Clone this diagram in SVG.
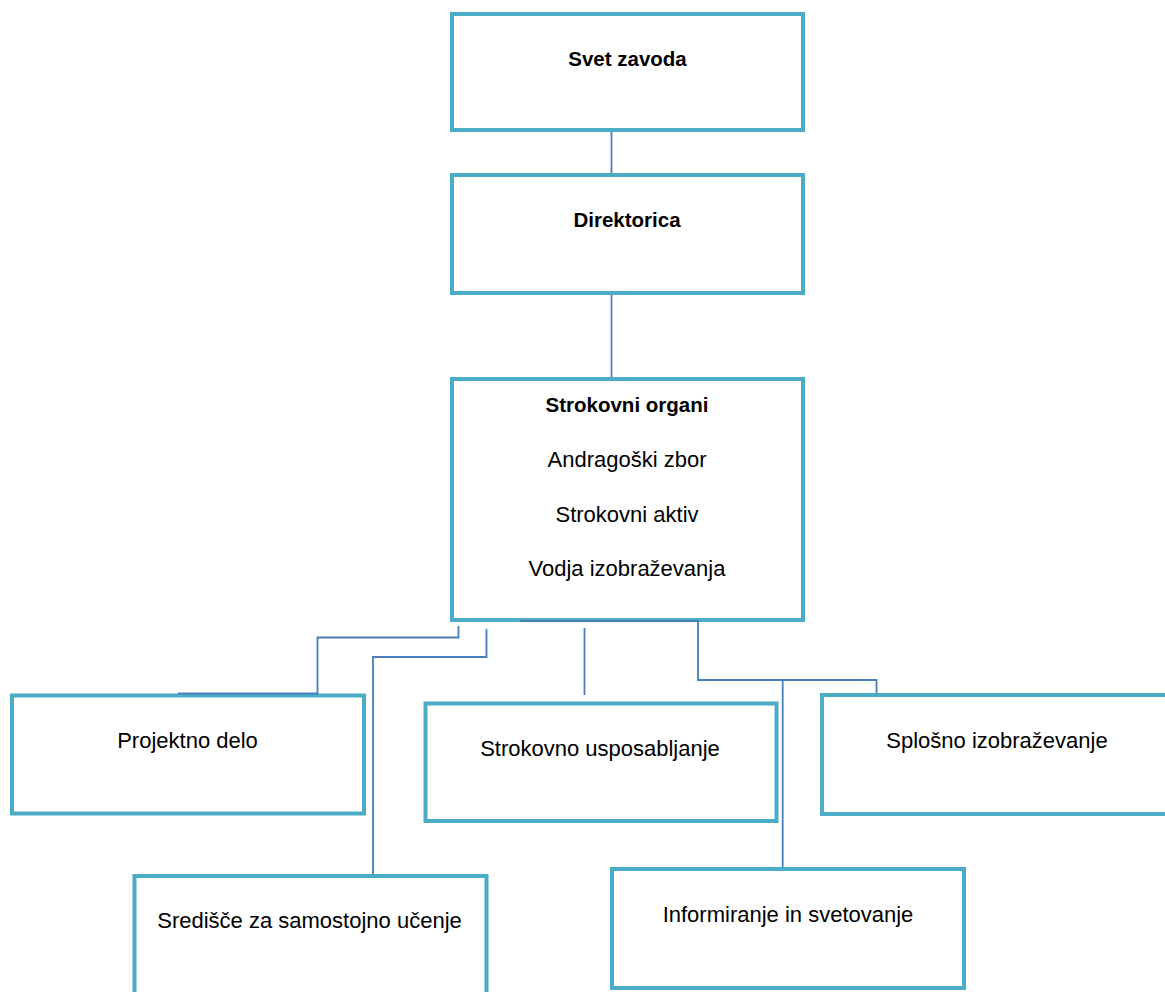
<svg xmlns="http://www.w3.org/2000/svg" width="1165" height="992" viewBox="0 0 1165 992">
<style>
.box{fill:#ffffff;stroke:#4BACC6;stroke-width:4}
.conn{fill:none;stroke:#4A7EBB;stroke-width:1.8}
text{font-family:"Liberation Sans",Arial,sans-serif;fill:#000000;text-anchor:middle}
.t{font-size:22px}
.b{font-size:20.5px;font-weight:bold}
</style>
<rect width="1165" height="992" fill="#ffffff"/>
<g id="svet-zavoda">
<rect class="box" x="452" y="14" width="351" height="116"/>
<text class="b" x="627.5" y="66">Svet zavoda</text>
</g>
<g id="direktorica">
<rect class="box" x="452" y="175" width="351" height="118"/>
<text class="b" x="627" y="227">Direktorica</text>
</g>
<g id="strokovni-organi">
<rect class="box" x="452" y="379" width="351" height="241"/>
<text class="b" x="627" y="412">Strokovni organi</text>
<text class="t" x="627" y="467">Andragoški zbor</text>
<text class="t" x="627" y="522">Strokovni aktiv</text>
<text class="t" x="627" y="576">Vodja izobraževanja</text>
</g>
<g id="projektno-delo">
<rect class="box" x="12" y="695.5" width="352" height="118"/>
<text class="t" x="187.5" y="748">Projektno delo</text>
</g>
<g id="strokovno-usposabljanje">
<rect class="box" x="425.5" y="703.5" width="351" height="117.5"/>
<text class="t" x="600" y="756">Strokovno usposabljanje</text>
</g>
<g id="splosno-izobrazevanje">
<rect class="box" x="822" y="695" width="351" height="119"/>
<text class="t" x="997" y="748">Splošno izobraževanje</text>
</g>
<g id="sredisce">
<rect class="box" x="134.5" y="876" width="352" height="130"/>
<text class="t" x="309.5" y="928">Središče za samostojno učenje</text>
</g>
<g id="informiranje">
<rect class="box" x="612" y="869" width="352" height="119"/>
<text class="t" x="788" y="922">Informiranje in svetovanje</text>
</g>
<g id="connectors">
<path class="conn" d="M611.5 132 V173"/>
<path class="conn" d="M611.5 295 V377"/>
<path class="conn" d="M458.5 626 V637.5 H317.5 V693.5 H178"/>
<path class="conn" d="M486.5 629 V657 H373 V874"/>
<path class="conn" d="M584.5 628 V695"/>
<path class="conn" d="M520 621 H698 V680 H876.5 V693"/>
<path class="conn" d="M782.7 680 V867"/>
</g>
</svg>
